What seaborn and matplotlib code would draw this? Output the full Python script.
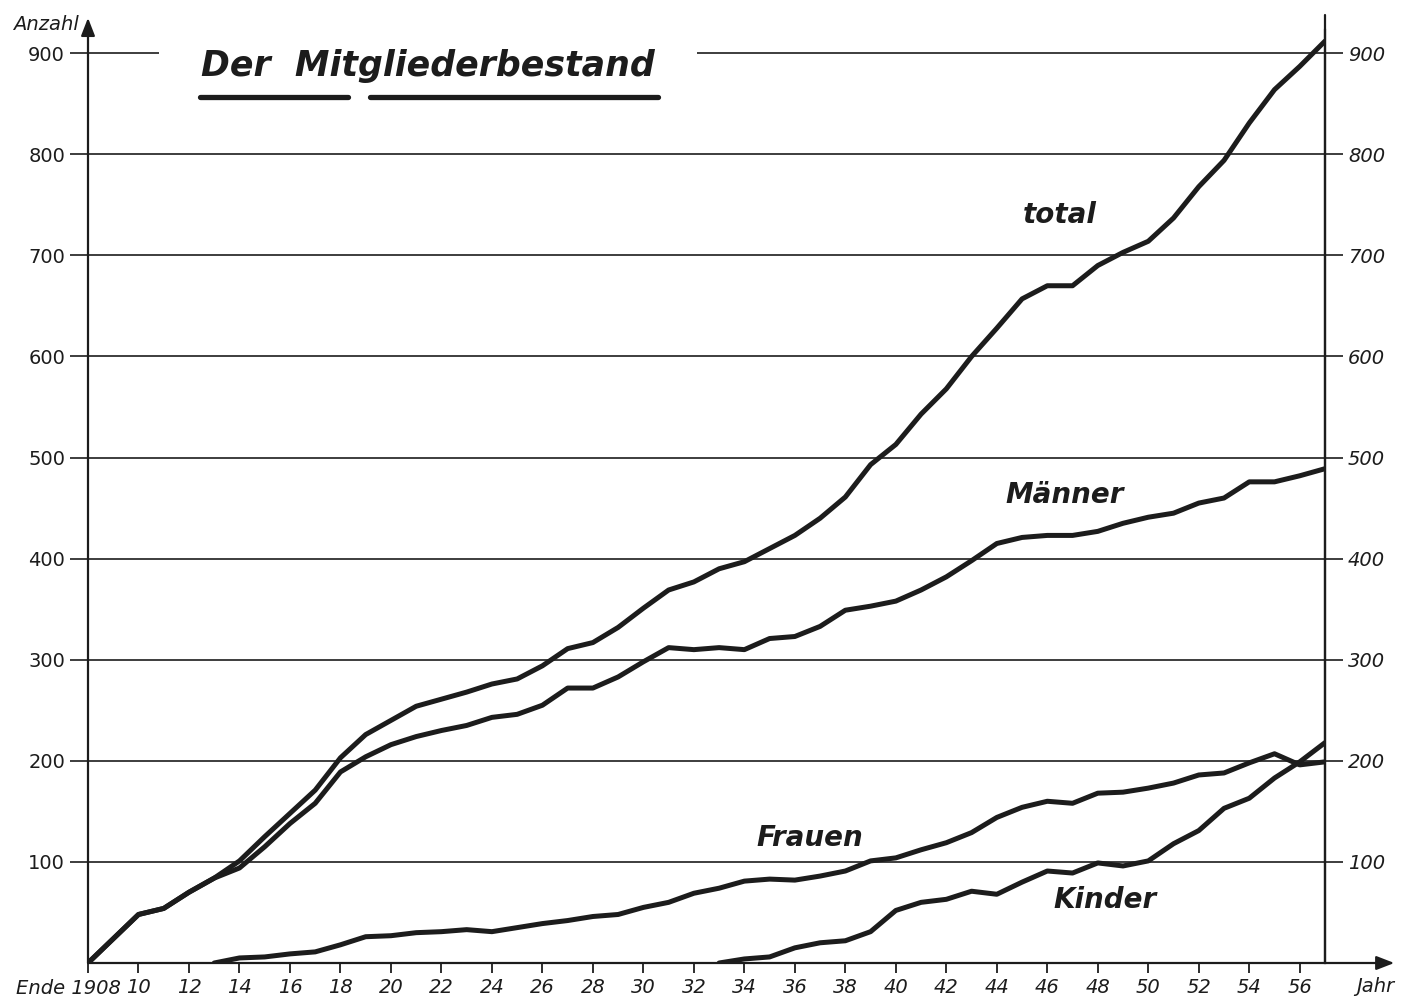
import matplotlib
matplotlib.use("Agg")
import matplotlib.pyplot as plt
import pandas as pd
import seaborn as sns
from matplotlib.lines import Line2D

# ---------------- data ----------------
years = list(range(1908, 1958))
total = [0, 24, 48, 54, 70, 84, 101, 125, 148, 171, 203, 226,
         240, 254, 261, 268, 276, 281, 294, 311, 317, 332,
         351, 369, 377, 390, 397, 410, 423, 440, 461, 493,
         513, 543, 568, 600, 628, 657, 670, 670, 690, 703,
         714, 737, 768, 794, 831, 864, 887, 912]
maenner = [0, 24, 48, 54, 70, 84, 94, 115, 138, 158, 189, 204,
           216, 224, 230, 235, 243, 246, 255, 272, 272, 283,
           298, 312, 310, 312, 310, 321, 323, 333, 349, 353,
           358, 369, 382, 398, 415, 421, 423, 423, 427, 435,
           441, 445, 455, 460, 476, 476, 482, 489]
frauen_years = list(range(1913, 1958))
frauen = [0, 5, 6, 9, 11, 18, 26,
          27, 30, 31, 33, 31, 35, 39, 42, 46, 48,
          55, 60, 69, 74, 81, 83, 82, 86, 91, 101,
          104, 112, 119, 129, 144, 154, 160, 158, 168, 169,
          173, 178, 186, 188, 198, 207, 196, 199]
kinder_years = list(range(1933, 1958))
kinder = [0, 4, 6, 15, 20, 22, 31,
          52, 60, 63, 71, 68, 80, 91, 89, 99, 96,
          101, 118, 131, 153, 163, 183, 199, 218]

series_names = ["total", "Männer", "Frauen", "Kinder"]
x_ticks = list(range(1908, 1957, 2))
x_ticklabels = [""] + [str(y % 100) for y in x_ticks[1:]]
y_ticks = [100, 200, 300, 400, 500, 600, 700, 800, 900]

df = pd.concat([
    pd.DataFrame({"Jahr": years, "Anzahl": total, "Reihe": "total"}),
    pd.DataFrame({"Jahr": years, "Anzahl": maenner, "Reihe": "Männer"}),
    pd.DataFrame({"Jahr": frauen_years, "Anzahl": frauen, "Reihe": "Frauen"}),
    pd.DataFrame({"Jahr": kinder_years, "Anzahl": kinder, "Reihe": "Kinder"}),
], ignore_index=True)

# ---------------- style ----------------
sns.set_theme(style="white")
plt.rcParams["font.family"] = ["DejaVu Sans"]
INK = "#1c1c1c"

fig = plt.figure(figsize=(14.11, 10), dpi=100)
fig.patch.set_facecolor("white")
ax = fig.add_axes([88 / 1411, 37 / 1000, 1237 / 1411, 933 / 1000])
ax.set_facecolor("white")

sns.lineplot(data=df, x="Jahr", y="Anzahl", hue="Reihe",
             palette={n: INK for n in series_names}, hue_order=series_names,
             linewidth=3.6, legend=False, ax=ax, zorder=4)

ax.set_xlim(1908, 1957)
ax.set_ylim(0, 923)
ax.set_xlabel("")
ax.set_ylabel("")

# grid and ticks
ax.set_yticks(y_ticks)
ax.set_yticklabels([str(v) for v in y_ticks])
ax.yaxis.grid(True, color=INK, linewidth=1.2)
ax.xaxis.grid(False)
ax.set_xticks(x_ticks)
ax.set_xticklabels(x_ticklabels)

ax.tick_params(axis="y", which="both", direction="out", length=13, width=1.2,
               color=INK, left=True, right=True, labelleft=True, labelright=True,
               pad=3.5, labelsize=14, labelcolor=INK)
ax.tick_params(axis="x", direction="out", length=7, width=1.3, color=INK,
               bottom=True, pad=4, labelsize=14, labelcolor=INK)
for t in ax.yaxis.get_major_ticks():
    t.label2.set_style("italic")
for lab in ax.get_xticklabels():
    lab.set_style("italic")

# spines: left & bottom as arrows, right plain
for s in ["top", "left", "bottom"]:
    ax.spines[s].set_visible(False)
ax.spines["right"].set_color(INK)
ax.spines["right"].set_linewidth(1.6)
ax.annotate("", xy=(0, 1.013), xytext=(0, 0), xycoords="axes fraction",
            arrowprops=dict(arrowstyle="-|>,head_length=0.9,head_width=0.35",
                            color=INK, lw=1.6, shrinkA=0, shrinkB=0),
            annotation_clip=False, zorder=6)
ax.annotate("", xy=(1.056, 0), xytext=(0, 0), xycoords="axes fraction",
            arrowprops=dict(arrowstyle="-|>,head_length=0.9,head_width=0.35",
                            color=INK, lw=1.6, shrinkA=0, shrinkB=0),
            annotation_clip=False, zorder=6)
fig.add_artist(Line2D([1325 / 1411, 1325 / 1411], [37 / 1000, 985 / 1000],
                      transform=fig.transFigure, color=INK, lw=1.6))

# axis captions
fig.text(46 / 1411, 1 - 25 / 1000, "Anzahl", ha="center", va="center",
         fontsize=14, style="italic", color=INK)
fig.text(1375 / 1411, 1 - 987 / 1000, "Jahr", ha="center", va="center",
         fontsize=14, style="italic", color=INK)
fig.text(68 / 1411, 1 - 988 / 1000, "Ende 1908", ha="center", va="center",
         fontsize=14, style="italic", color=INK)

# series labels
label_pos = {"total": (1946.5, 740), "Männer": (1946.7, 463),
             "Frauen": (1936.6, 124), "Kinder": (1948.3, 62)}
for name in series_names:
    xx, yy = label_pos[name]
    ax.text(xx, yy, name, ha="center", va="center", fontsize=20,
            fontweight="bold", style="italic", color=INK, zorder=5)

# title with white box hiding the 900 grid line, plus hand underlines
fig.text(428 / 1411, 1 - 66 / 1000, "Der  Mitgliederbestand", ha="center",
         va="center", fontsize=25, fontweight="bold", style="italic",
         color=INK, zorder=4,
         bbox=dict(facecolor="white", edgecolor="none", pad=30))
for x0, x1 in [(200, 348), (370, 658)]:
    fig.add_artist(Line2D([x0 / 1411, x1 / 1411], [1 - 97 / 1000, 1 - 97 / 1000],
                          transform=fig.transFigure, color=INK, lw=3.8,
                          solid_capstyle="round", zorder=6))

fig.savefig("out.png", dpi=100, facecolor="white")
